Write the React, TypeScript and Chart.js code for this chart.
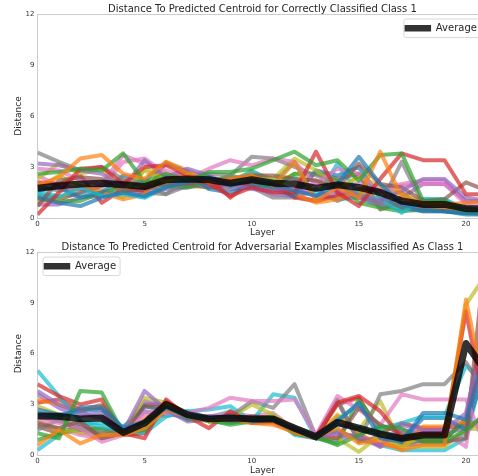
import React, { useEffect, useRef } from "react";
import { Chart, registerables } from "chart.js";
Chart.register(...registerables);

const layers = [0, 1, 2, 3, 4, 5, 6, 7, 8, 9, 10, 11, 12, 13, 14, 15, 16, 17, 18, 19, 20, 21];
const xTicks = [0, 5, 10, 15, 20];
const yTicks = [0, 3, 6, 9, 12];

const topTitle = "Distance To Predicted Centroid for Correctly Classified Class 1";
const bottomTitle = "Distance To Predicted Centroid for Adversarial Examples Misclassified As Class 1";

const palette = ["#1f77b4", "#ff7f0e", "#2ca02c", "#d62728", "#9467bd", "#8c564b", "#e377c2", "#7f7f7f", "#bcbd22", "#17becf"];

// Correctly classified class 1
const topAverage = [1.75, 1.9, 2.0, 2.05, 1.95, 1.85, 2.25, 2.3, 2.25, 2.05, 2.25, 2.05, 2.0, 1.75, 1.95, 1.8, 1.5, 1.0, 0.8, 0.8, 0.55, 0.55];
const topSeries = [
  [1.2, 0.9, 0.7, 1.2, 1.5, 1.3, 1.8, 2.1, 2.4, 1.9, 2.2, 2.0, 1.6, 1.3, 2.0, 3.6, 2.0, 0.8, 0.5, 0.4, 0.3, 0.3],
  [1.9, 2.4, 3.5, 3.7, 2.6, 2.3, 3.3, 2.6, 2.1, 2.3, 2.5, 1.9, 3.3, 1.0, 1.8, 1.2, 3.9, 1.2, 0.9, 0.8, 0.9, 1.0],
  [2.6, 2.7, 2.9, 2.8, 3.8, 2.1, 2.6, 2.2, 2.7, 2.7, 2.9, 3.4, 3.9, 3.1, 3.4, 2.2, 3.7, 3.8, 1.0, 1.0, 0.3, 0.4],
  [0.2, 1.5, 2.9, 3.0, 2.0, 3.0, 3.1, 2.5, 2.0, 1.3, 1.8, 1.5, 1.5, 3.9, 1.5, 0.7, 2.3, 3.8, 3.4, 3.4, 1.4, 1.4],
  [3.2, 3.1, 2.8, 2.6, 1.8, 3.4, 2.4, 2.9, 2.5, 2.0, 1.7, 1.6, 1.7, 1.3, 1.6, 1.3, 1.0, 1.6, 2.3, 2.3, 1.2, 1.0],
  [0.7, 2.2, 2.4, 2.3, 1.6, 1.7, 2.0, 2.0, 2.2, 2.3, 2.5, 2.5, 2.3, 2.2, 1.8, 3.2, 2.0, 1.8, 1.0, 1.1, 2.1, 1.6],
  [2.9, 2.8, 2.2, 2.0, 3.7, 3.2, 2.8, 2.3, 2.9, 3.4, 3.1, 3.5, 3.3, 2.0, 2.9, 2.6, 1.5, 1.9, 2.0, 2.0, 0.8, 0.9],
  [3.85, 3.3, 2.8, 3.0, 2.3, 2.0, 1.4, 2.3, 2.6, 2.5, 3.6, 3.5, 3.0, 2.5, 2.0, 1.3, 0.8, 3.3, 0.8, 0.7, 0.6, 0.5],
  [2.3, 3.2, 2.6, 2.9, 1.5, 2.8, 2.1, 2.6, 2.3, 2.0, 2.4, 2.3, 3.5, 2.8, 1.8, 2.4, 1.9, 1.4, 0.9, 0.8, 0.4, 0.5],
  [1.4, 1.2, 1.8, 1.3, 1.4, 1.2, 2.0, 2.3, 2.4, 2.0, 2.8, 2.1, 3.3, 1.1, 3.2, 1.4, 1.1, 0.3, 1.1, 1.1, 0.4, 0.4],
  [1.6, 1.8, 1.2, 1.5, 2.5, 2.2, 3.2, 2.7, 1.7, 1.5, 1.9, 1.7, 1.3, 2.8, 2.5, 3.0, 1.2, 0.6, 0.4, 0.4, 0.2, 0.2],
  [1.0, 1.1, 1.9, 1.5, 1.1, 1.4, 3.3, 2.8, 2.3, 2.2, 2.7, 2.3, 1.4, 0.9, 1.1, 1.6, 1.1, 0.6, 0.5, 0.5, 0.4, 0.4],
  [1.1, 1.0, 1.0, 1.5, 1.8, 2.2, 1.9, 1.8, 2.1, 2.5, 2.2, 1.8, 2.6, 2.6, 2.2, 0.9, 0.6, 0.4, 0.5, 0.4, 0.3, 0.2],
  [2.1, 2.0, 2.5, 0.9, 1.7, 1.6, 2.3, 2.6, 2.4, 1.2, 2.2, 2.0, 1.2, 1.0, 1.3, 1.7, 1.6, 1.5, 0.6, 0.5, 0.4, 0.5],
  [0.8, 0.8, 1.2, 1.3, 1.6, 1.5, 1.7, 1.8, 2.0, 1.7, 1.8, 1.4, 1.3, 1.0, 1.4, 1.2, 0.7, 1.2, 2.0, 2.0, 1.0, 1.0],
  [1.3, 1.1, 1.5, 1.9, 2.2, 1.8, 2.4, 2.0, 1.8, 2.0, 2.0, 1.8, 1.5, 2.7, 2.3, 2.6, 0.5, 0.9, 0.7, 0.7, 0.5, 0.4],
  [2.5, 1.9, 1.7, 1.8, 3.3, 3.5, 2.6, 2.0, 2.1, 1.9, 2.4, 2.1, 1.2, 2.2, 1.6, 2.1, 1.8, 2.0, 2.2, 2.2, 0.9, 1.1],
  [1.9, 1.6, 1.7, 1.4, 2.0, 1.5, 1.4, 1.9, 2.2, 2.1, 1.8, 1.2, 1.2, 1.7, 1.0, 1.5, 0.9, 0.7, 0.4, 0.4, 0.3, 0.3],
  [1.7, 2.5, 1.9, 1.6, 1.2, 2.9, 2.5, 1.9, 1.8, 1.8, 1.9, 2.0, 2.6, 2.2, 1.5, 2.5, 1.5, 0.9, 0.8, 0.5, 0.3, 0.3],
  [1.5, 1.3, 1.4, 1.3, 1.5, 1.2, 1.8, 2.4, 2.3, 1.8, 2.6, 2.2, 2.4, 1.4, 1.1, 1.2, 0.8, 0.5, 1.1, 1.1, 0.5, 0.5],
];

// Adversarial examples misclassified as class 1
const bottomAverage = [2.32, 2.3, 2.15, 2.2, 1.35, 1.9, 3.0, 2.4, 2.15, 2.2, 2.15, 2.15, 1.6, 1.1, 1.95, 1.6, 1.25, 1.0, 1.2, 1.2, 6.6, 4.8];
const bottomSeries = [
  [2.5, 2.2, 2.8, 2.9, 1.6, 2.0, 2.8, 2.3, 2.2, 2.3, 2.0, 2.1, 1.5, 1.1, 2.0, 3.1, 1.0, 0.8, 2.5, 2.5, 2.1, 6.5],
  [0.6, 1.5, 0.7, 1.2, 1.2, 1.6, 2.7, 2.3, 2.1, 2.2, 1.9, 1.9, 1.3, 1.1, 1.6, 0.7, 0.9, 0.3, 0.6, 0.6, 9.2, 3.0],
  [1.3, 1.0, 3.8, 3.7, 1.3, 1.5, 2.9, 2.2, 2.1, 1.8, 2.0, 2.2, 1.3, 1.1, 0.6, 1.2, 1.7, 1.6, 0.8, 0.8, 1.5, 2.5],
  [4.2, 3.5, 3.0, 3.3, 1.3, 1.0, 3.3, 2.3, 1.6, 2.6, 1.9, 2.0, 1.5, 1.1, 3.1, 3.5, 2.6, 1.0, 1.2, 1.2, 8.5, 2.0],
  [3.8, 3.0, 2.5, 2.2, 1.4, 3.8, 2.7, 2.0, 2.1, 2.1, 2.0, 2.0, 1.4, 1.0, 1.3, 1.1, 0.6, 1.8, 1.5, 1.5, 2.5, 8.0],
  [1.9, 1.6, 2.0, 1.0, 1.3, 2.9, 2.8, 2.3, 2.2, 2.1, 2.3, 2.2, 1.5, 1.1, 1.0, 2.8, 1.8, 1.3, 0.8, 0.8, 1.0, 13.0],
  [2.1, 1.9, 1.6, 0.8, 1.2, 2.6, 2.5, 2.5, 2.8, 3.4, 3.2, 3.2, 3.3, 1.2, 3.5, 2.7, 1.8, 3.6, 3.3, 3.3, 3.3, 0.3],
  [1.5, 2.1, 1.5, 1.3, 1.5, 1.5, 2.6, 2.4, 2.2, 2.3, 3.2, 2.8, 4.2, 1.1, 3.3, 0.8, 3.6, 3.8, 4.2, 4.2, 5.5, 3.5],
  [2.0, 1.5, 1.4, 1.1, 1.3, 3.4, 3.1, 2.4, 2.0, 2.2, 3.0, 2.4, 1.5, 1.1, 1.0, 0.2, 1.2, 0.5, 1.2, 1.2, 8.9, 10.8],
  [5.0, 3.5, 2.0, 1.7, 1.4, 1.3, 2.3, 2.6, 2.7, 2.9, 2.0, 3.6, 3.4, 1.0, 2.1, 3.0, 1.6, 1.9, 2.3, 2.3, 5.3, 4.0],
  [2.7, 2.4, 2.6, 2.7, 1.6, 2.9, 2.6, 2.1, 2.2, 2.0, 2.1, 2.2, 1.3, 1.1, 1.8, 1.6, 1.2, 0.9, 2.2, 2.2, 1.5, 5.5],
  [3.3, 3.0, 2.6, 3.0, 1.4, 2.1, 3.0, 2.2, 2.1, 2.1, 1.9, 1.8, 1.4, 1.0, 2.3, 1.2, 0.7, 0.4, 1.7, 1.7, 2.0, 1.5],
  [0.9, 1.3, 1.5, 1.6, 1.3, 2.0, 3.1, 2.4, 2.0, 1.9, 2.1, 2.3, 1.3, 1.0, 0.7, 3.3, 1.5, 0.9, 1.0, 1.0, 2.0, 1.8],
  [3.1, 3.3, 2.7, 2.8, 1.2, 1.3, 3.2, 2.4, 2.0, 2.4, 2.0, 2.1, 1.4, 1.1, 3.0, 3.4, 1.3, 1.9, 1.6, 1.6, 1.8, 7.0],
  [3.6, 2.8, 2.3, 2.5, 1.3, 3.2, 2.9, 2.2, 2.3, 2.2, 2.1, 2.1, 1.4, 1.0, 0.9, 1.3, 0.5, 1.5, 1.3, 1.3, 1.6, 2.3],
  [1.7, 1.3, 1.7, 1.2, 1.4, 3.0, 3.0, 2.1, 2.2, 2.2, 2.2, 2.1, 1.6, 1.0, 3.2, 0.8, 1.1, 0.7, 0.9, 0.9, 2.2, 9.0],
  [1.8, 1.6, 1.2, 1.0, 1.3, 2.4, 2.4, 2.3, 2.3, 2.5, 2.3, 2.5, 1.5, 1.1, 1.2, 1.1, 0.5, 1.2, 1.4, 1.4, 0.5, 9.5],
  [2.3, 2.0, 1.8, 1.5, 1.4, 1.8, 2.8, 2.2, 2.3, 2.3, 2.2, 2.1, 1.7, 1.2, 1.4, 1.0, 0.6, 0.6, 0.7, 0.7, 1.3, 2.7],
  [2.9, 2.4, 1.3, 1.3, 1.4, 2.0, 2.9, 2.3, 2.2, 2.4, 2.0, 2.2, 1.5, 1.1, 2.4, 1.5, 3.2, 0.6, 0.5, 0.5, 1.6, 1.5],
  [0.3, 1.2, 1.9, 1.9, 1.7, 2.6, 2.3, 2.6, 2.2, 2.6, 2.1, 2.2, 1.2, 1.0, 1.5, 0.9, 0.6, 0.3, 0.3, 0.3, 1.0, 6.0],
];

const FONT = '"DejaVu Sans", sans-serif';

function hexA(hex: string, a: number) {
  const n = parseInt(hex.slice(1), 16);
  return `rgba(${(n >> 16) & 255},${(n >> 8) & 255},${n & 255},${a})`;
}

function makeDecor(title: string, legendSide: "left" | "right") {
  return {
    id: "decor",
    afterDraw(chart: any) {
      const { ctx, chartArea: a } = chart;
      ctx.save();
      // top spine
      ctx.strokeStyle = "#cccccc";
      ctx.lineWidth = 1;
      ctx.beginPath();
      ctx.moveTo(a.left, a.top + 0.5);
      ctx.lineTo(a.right, a.top + 0.5);
      ctx.stroke();
      // title
      ctx.font = `10px ${FONT}`;
      ctx.fillStyle = "#262626";
      ctx.textAlign = "center";
      ctx.textBaseline = "middle";
      ctx.fillText(title, (a.left + a.right) / 2, 9);
      // legend
      ctx.font = `10px ${FONT}`;
      const label = "Average";
      const tw = ctx.measureText(label).width;
      const bw = 4 + 20 + 8 + tw + 4;
      const bh = 18.5;
      const bx = legendSide === "left" ? a.left + 5 : a.right - 7 - bw;
      const by = a.top + 4.5;
      ctx.fillStyle = "rgba(255,255,255,0.85)";
      ctx.strokeStyle = "#d8d8d8";
      ctx.lineWidth = 1;
      ctx.beginPath();
      (ctx as any).roundRect(bx + 0.5, by + 0.5, bw, bh, 2);
      ctx.fill();
      ctx.stroke();
      const cy = by + bh / 2 + 0.5;
      ctx.strokeStyle = "rgba(0,0,0,0.8)";
      ctx.lineWidth = 6.5;
      ctx.lineCap = "square";
      ctx.beginPath();
      ctx.moveTo(bx + 4.5, cy);
      ctx.lineTo(bx + 24.5, cy);
      ctx.stroke();
      ctx.fillStyle = "#262626";
      ctx.textAlign = "left";
      ctx.textBaseline = "middle";
      ctx.fillText(label, bx + 32.5, cy);
      ctx.restore();
    },
  };
}

function buildConfig(series: number[][], average: number[], title: string, legendSide: "left" | "right", xHeight: number): any {
  const datasets: any[] = [
    {
      label: "Average",
      data: average.map((v, i) => ({ x: layers[i], y: v })),
      borderColor: "rgba(0,0,0,0.8)",
      borderWidth: 7,
      pointRadius: 0,
      borderJoinStyle: "round",
      order: 0,
    },
    ...series.map((s, k) => ({
      label: `s${k}`,
      data: s.map((v, i) => ({ x: layers[i], y: v })),
      borderColor: hexA(palette[k % palette.length], 0.7),
      borderWidth: 4,
      pointRadius: 0,
      borderJoinStyle: "round",
      order: 1,
    })),
  ];
  return {
    type: "line",
    data: { datasets },
    options: {
      animation: false,
      responsive: false,
      devicePixelRatio: 1,
      layout: { padding: { top: 14, left: 0, right: 2.6, bottom: 0 } },
      plugins: { legend: { display: false }, tooltip: { enabled: false }, title: { display: false } },
      elements: { line: { tension: 0 } },
      scales: {
        x: {
          type: "linear",
          min: 0,
          max: 21,
          afterBuildTicks: (scale: any) => {
            scale.ticks = xTicks.map((v) => ({ value: v }));
          },
          afterFit: (scale: any) => {
            scale.height = xHeight;
          },
          ticks: { font: { family: FONT, size: 7 }, color: "#333333", padding: 2 },
          grid: { display: false, drawTicks: false },
          border: { display: true, color: "#cccccc", width: 1 },
          title: { display: true, text: "Layer", font: { family: FONT, size: 9 }, color: "#262626", padding: 0 },
        },
        y: {
          type: "linear",
          min: 0,
          max: 12,
          afterBuildTicks: (scale: any) => {
            scale.ticks = yTicks.map((v) => ({ value: v }));
          },
          afterFit: (scale: any) => {
            scale.width = 37.5;
          },
          ticks: { font: { family: FONT, size: 7 }, color: "#333333", padding: 3 },
          grid: { display: false, drawTicks: false },
          border: { display: true, color: "#cccccc", width: 1 },
          title: { display: true, text: "Distance", font: { family: FONT, size: 9 }, color: "#262626", padding: { top: 13.6, bottom: 0 } },
        },
      },
    },
    plugins: [makeDecor(title, legendSide)],
  };
}

export default function App() {
  const topRef = useRef<HTMLCanvasElement>(null);
  const botRef = useRef<HTMLCanvasElement>(null);
  useEffect(() => {
    const c1 = new Chart(topRef.current as HTMLCanvasElement, buildConfig(topSeries, topAverage, topTitle, "right", 20));
    const c2 = new Chart(botRef.current as HTMLCanvasElement, buildConfig(bottomSeries, bottomAverage, bottomTitle, "left", 20.7));
    return () => {
      c1.destroy();
      c2.destroy();
    };
  }, []);
  return (
    <div style={{ position: "fixed", left: 0, top: 0, width: 478, height: 476, overflow: "hidden", background: "#ffffff" }}>
      <canvas ref={topRef} width={490} height={238} style={{ position: "absolute", left: 0, top: 0, width: 490, height: 238 }} />
      <canvas ref={botRef} width={490} height={238} style={{ position: "absolute", left: 0, top: 238, width: 490, height: 238 }} />
    </div>
  );
}
